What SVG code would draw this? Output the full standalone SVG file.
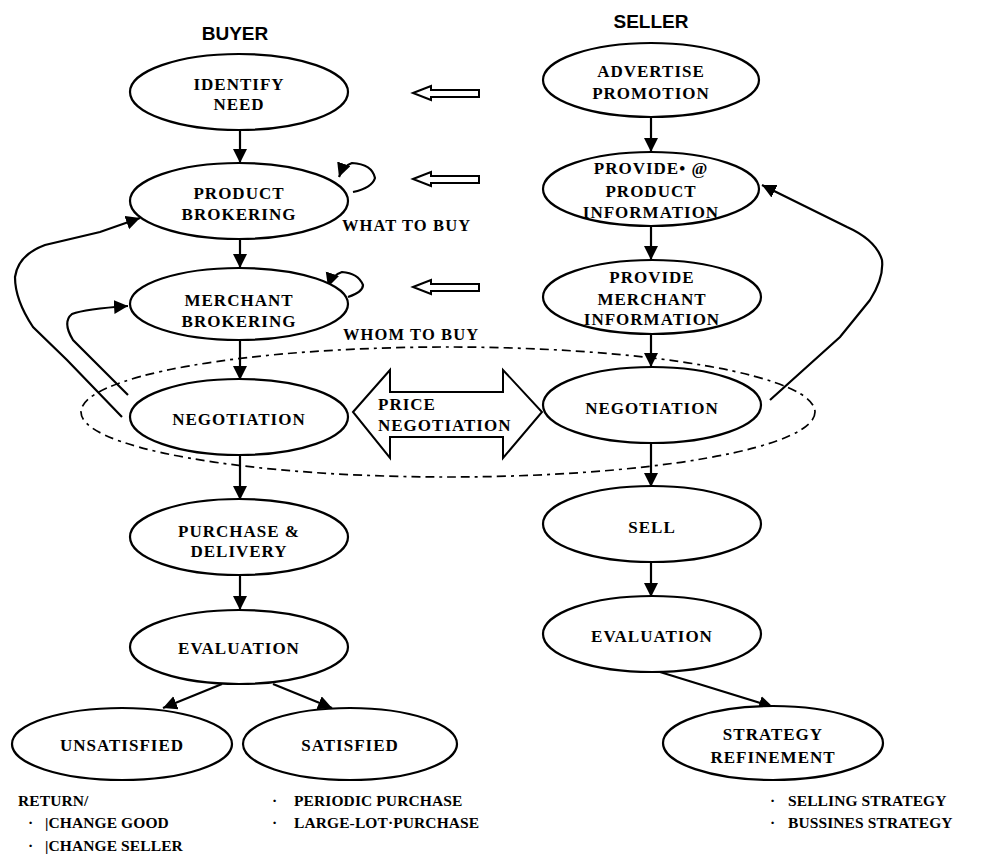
<svg xmlns="http://www.w3.org/2000/svg" width="996" height="864" viewBox="0 0 996 864">
<style>
.node ellipse{fill:#fff;stroke:#000;stroke-width:2.2}
.t{font-family:"Liberation Serif","Times New Roman",serif;font-weight:bold;font-size:17px;letter-spacing:1px;text-anchor:middle;fill:#000}
.b{font-family:"Liberation Serif","Times New Roman",serif;font-weight:bold;font-size:15.5px;letter-spacing:0.1px;fill:#000}
.w{font-family:"Liberation Serif","Times New Roman",serif;font-weight:bold;font-size:16.5px;letter-spacing:1.1px;fill:#000}
.h{font-family:"Liberation Sans",Arial,sans-serif;font-weight:bold;font-size:19px;text-anchor:middle;fill:#000}
.c{fill:none;stroke:#000;stroke-width:2.2}
.hollow{fill:#fff;stroke:#000;stroke-width:2}
.dash{fill:none;stroke:#000;stroke-width:1.7;stroke-dasharray:9 5 9 5 3 5}
</style>
<defs>
<marker id="ah" markerWidth="15" markerHeight="15" refX="14" refY="7" orient="auto" markerUnits="userSpaceOnUse">
<path d="M0,0 L14,7 L0,14 z" fill="#000"/>
</marker>
</defs>
<rect width="996" height="864" fill="#fff"/>

<text class="h" x="235" y="40">BUYER</text>
<text class="h" x="651" y="28">SELLER</text>

<ellipse class="dash" cx="448" cy="412" rx="367" ry="65"/>

<g id="connectors">
<path class="c" marker-end="url(#ah)" d="M240,130 L240,163"/>
<path class="c" marker-end="url(#ah)" d="M240,240 L240,268"/>
<path class="c" marker-end="url(#ah)" d="M240,340 L240,380"/>
<path class="c" marker-end="url(#ah)" d="M240,455 L240,500"/>
<path class="c" marker-end="url(#ah)" d="M240,575 L240,610"/>
<path class="c" marker-end="url(#ah)" d="M222,684 L163,708"/>
<path class="c" marker-end="url(#ah)" d="M273,684 L332,708"/>
<path class="c" marker-end="url(#ah)" d="M651,117 L651,152"/>
<path class="c" marker-end="url(#ah)" d="M651,227 L651,260"/>
<path class="c" marker-end="url(#ah)" d="M651,333 L651,367"/>
<path class="c" marker-end="url(#ah)" d="M651,443 L651,487"/>
<path class="c" marker-end="url(#ah)" d="M651,562 L651,597"/>
<path class="c" marker-end="url(#ah)" d="M660,672 L773,707"/>
<path class="c" marker-end="url(#ah)" d="M122,417 L67,360 L33,327 Q15,300 15,277 Q18,255 45,245 L100,232 L140,218"/>
<path class="c" marker-end="url(#ah)" d="M128,395 L100,367 L73,340 Q62,322 72,314 Q85,309 128,306"/>
<path class="c" marker-end="url(#ah)" d="M770,400 L840,337 L870,300 Q884,278 882,260 Q876,240 847,227 L762,185"/>
<path class="c" marker-end="url(#ah)" d="M353,192 Q372,188 375,178 Q372,164 352,163 Q343,166 339,177"/>
<path class="c" marker-end="url(#ah)" d="M348,297 Q363,292 363,285 Q358,273 342,272 Q332,275 328,287"/>
<polygon class="hollow" points="413,93 431,86 431,90 479,90 479,97 431,97 431,100"/>
<polygon class="hollow" points="413,179 431,172 431,176 479,176 479,183 431,183 431,186"/>
<polygon class="hollow" points="413,287 431,280 431,284 479,284 479,291 431,291 431,294"/>
<polygon class="hollow" points="353,412 390,370 390,392 503,392 503,370 542,412 503,458 503,437 390,437 390,458"/>
</g>
<text class="t" x="378" y="410" style="text-anchor:start">PRICE</text>
<text class="t" x="378" y="431" style="text-anchor:start">NEGOTIATION</text>

<g id="identify" class="node"><ellipse cx="239" cy="92" rx="109" ry="38"/><text class="t" x="239" y="90">IDENTIFY</text><text class="t" x="239" y="110">NEED</text></g>
<g id="product" class="node"><ellipse cx="239" cy="201" rx="109" ry="38"/><text class="t" x="239" y="199">PRODUCT</text><text class="t" x="239" y="220">BROKERING</text></g>
<g id="merchant" class="node"><ellipse cx="239" cy="304" rx="109" ry="36"/><text class="t" x="239" y="306">MERCHANT</text><text class="t" x="239" y="327">BROKERING</text></g>
<g id="neg-buyer" class="node"><ellipse cx="239" cy="417" rx="109" ry="38"/><text class="t" x="239" y="425">NEGOTIATION</text></g>
<g id="purchase" class="node"><ellipse cx="239" cy="537" rx="109" ry="38"/><text class="t" x="239" y="537">PURCHASE &amp;</text><text class="t" x="239" y="557">DELIVERY</text></g>
<g id="eval-buyer" class="node"><ellipse cx="239" cy="647" rx="109" ry="37"/><text class="t" x="239" y="654">EVALUATION</text></g>
<g id="unsatisfied" class="node"><ellipse cx="122" cy="744" rx="110" ry="36"/><text class="t" x="122" y="751">UNSATISFIED</text></g>
<g id="satisfied" class="node"><ellipse cx="350" cy="744" rx="107" ry="36"/><text class="t" x="350" y="751">SATISFIED</text></g>

<g id="advertise" class="node"><ellipse cx="651" cy="80" rx="108" ry="37"/><text class="t" x="651" y="77">ADVERTISE</text><text class="t" x="651" y="99">PROMOTION</text></g>
<g id="prod-info" class="node"><ellipse cx="651" cy="189" rx="108" ry="37"/><text class="t" x="651" y="174">PROVIDE• @</text><text class="t" x="651" y="197">PRODUCT</text><text class="t" x="651" y="218">INFORMATION</text></g>
<g id="merch-info" class="node"><ellipse cx="652" cy="297" rx="109" ry="37"/><text class="t" x="652" y="283">PROVIDE</text><text class="t" x="652" y="305">MERCHANT</text><text class="t" x="652" y="325">INFORMATION</text></g>
<g id="neg-seller" class="node"><ellipse cx="652" cy="405" rx="109" ry="38"/><text class="t" x="652" y="414">NEGOTIATION</text></g>
<g id="sell" class="node"><ellipse cx="652" cy="524" rx="109" ry="38"/><text class="t" x="652" y="533">SELL</text></g>
<g id="eval-seller" class="node"><ellipse cx="652" cy="634" rx="109" ry="38"/><text class="t" x="652" y="642">EVALUATION</text></g>
<g id="strategy" class="node"><ellipse cx="773" cy="743" rx="110" ry="37"/><text class="t" x="773" y="740">STRATEGY</text><text class="t" x="773" y="763">REFINEMENT</text></g>

<text class="w" x="342" y="231">WHAT TO BUY</text>
<text class="w" x="343" y="340">WHOM TO BUY</text>

<text class="b" x="18" y="806">RETURN/</text>
<text class="b" x="28" y="828">·</text><text class="b" x="45" y="828">|CHANGE GOOD</text>
<text class="b" x="28" y="851">·</text><text class="b" x="45" y="851">|CHANGE SELLER</text>
<text class="b" x="272" y="806">·</text><text class="b" x="294" y="806">PERIODIC PURCHASE</text>
<text class="b" x="272" y="828">·</text><text class="b" x="294" y="828">LARGE-LOT·PURCHASE</text>
<text class="b" x="770" y="806">·</text><text class="b" x="788" y="806">SELLING STRATEGY</text>
<text class="b" x="770" y="828">·</text><text class="b" x="788" y="828">BUSSINES STRATEGY</text>
</svg>
